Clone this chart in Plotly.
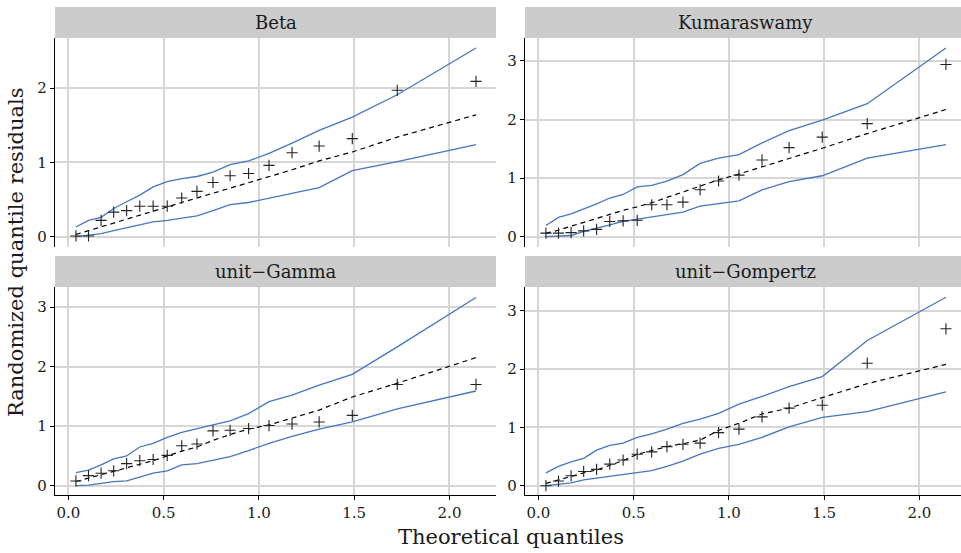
import plotly.graph_objects as go

# Half-normal theoretical quantiles (19 residuals per model)
theoretical = [0.04, 0.106, 0.172, 0.238, 0.306, 0.375, 0.445, 0.519, 0.595, 0.675,
               0.759, 0.849, 0.946, 1.053, 1.174, 1.316, 1.490, 1.726, 2.139]

models = ["Beta", "Kumaraswamy", "unit\u2212Gamma", "unit\u2212Gompertz"]

# Observed absolute randomized quantile residuals
beta_resid = [0.01, 0.01, 0.22, 0.33, 0.35, 0.41, 0.41, 0.41, 0.52, 0.61,
              0.73, 0.82, 0.85, 0.96, 1.13, 1.22, 1.32, 1.97, 2.09]
kuma_resid = [0.06, 0.06, 0.07, 0.10, 0.125, 0.26, 0.27, 0.28, 0.545, 0.545,
              0.59, 0.80, 0.95, 1.05, 1.31, 1.52, 1.70, 1.93, 2.94]
ugam_resid = [0.08, 0.17, 0.21, 0.25, 0.37, 0.42, 0.44, 0.51, 0.67, 0.70,
              0.92, 0.93, 0.96, 1.01, 1.035, 1.07, 1.18, 1.70, 1.70]
ugom_resid = [0.0, 0.08, 0.17, 0.245, 0.28, 0.37, 0.44, 0.54, 0.58, 0.67,
              0.71, 0.73, 0.91, 0.97, 1.18, 1.33, 1.38, 2.10, 2.69]

# Simulated envelope: median (dashed), upper and lower bounds
beta_mid = [0.03, 0.08, 0.13, 0.18, 0.23, 0.29, 0.34, 0.40, 0.46, 0.52,
            0.58, 0.65, 0.72, 0.81, 0.90, 1.02, 1.14, 1.34, 1.64]
beta_upper = [0.13, 0.22, 0.26, 0.38, 0.47, 0.56, 0.67, 0.74, 0.78, 0.81,
              0.87, 0.97, 1.02, 1.12, 1.26, 1.43, 1.61, 1.91, 2.54]
beta_lower = [0.0, 0.02, 0.04, 0.08, 0.12, 0.16, 0.20, 0.22, 0.25, 0.28,
              0.35, 0.43, 0.46, 0.52, 0.58, 0.66, 0.89, 1.01, 1.24]

kuma_mid = [0.06, 0.11, 0.18, 0.25, 0.31, 0.38, 0.45, 0.51, 0.58, 0.67,
            0.76, 0.86, 0.97, 1.07, 1.19, 1.33, 1.51, 1.76, 2.17]
kuma_upper = [0.19, 0.33, 0.39, 0.47, 0.56, 0.66, 0.72, 0.85, 0.875, 0.95,
              1.06, 1.25, 1.34, 1.40, 1.60, 1.81, 1.99, 2.27, 3.22]
kuma_lower = [0.0, 0.01, 0.02, 0.09, 0.14, 0.20, 0.26, 0.30, 0.34, 0.38,
              0.42, 0.52, 0.56, 0.61, 0.80, 0.94, 1.04, 1.34, 1.57]

ugam_mid = [0.07, 0.13, 0.18, 0.24, 0.30, 0.36, 0.42, 0.50, 0.58, 0.65,
            0.76, 0.86, 0.95, 1.02, 1.13, 1.27, 1.49, 1.72, 2.15]
ugam_upper = [0.22, 0.26, 0.35, 0.45, 0.50, 0.65, 0.71, 0.81, 0.895, 0.95,
              1.02, 1.09, 1.21, 1.41, 1.52, 1.69, 1.87, 2.33, 3.16]
ugam_lower = [0.0, 0.01, 0.04, 0.07, 0.08, 0.15, 0.21, 0.25, 0.35, 0.37,
              0.43, 0.49, 0.59, 0.71, 0.83, 0.95, 1.07, 1.29, 1.59]

ugom_mid = [0.04, 0.10, 0.17, 0.22, 0.27, 0.35, 0.43, 0.54, 0.60, 0.67,
            0.72, 0.78, 0.95, 1.07, 1.23, 1.33, 1.51, 1.75, 2.08]
ugom_upper = [0.22, 0.33, 0.41, 0.47, 0.61, 0.69, 0.73, 0.83, 0.89, 0.97,
              1.07, 1.14, 1.24, 1.40, 1.53, 1.70, 1.87, 2.49, 3.23]
ugom_lower = [0.0, 0.03, 0.05, 0.10, 0.13, 0.16, 0.19, 0.22, 0.26, 0.33,
              0.42, 0.54, 0.64, 0.71, 0.83, 1.01, 1.17, 1.27, 1.61]

x_ticks = [0, 0.5, 1.0, 1.5, 2.0]
x_tick_labels = ["0.0", "0.5", "1.0", "1.5", "2.0"]

panels = [
    (beta_resid, beta_mid, beta_upper, beta_lower),
    (kuma_resid, kuma_mid, kuma_upper, kuma_lower),
    (ugam_resid, ugam_mid, ugam_upper, ugam_lower),
    (ugom_resid, ugom_mid, ugom_upper, ugom_lower),
]

W, H = 961, 553
FONT = "DejaVu Serif"
BLUE = "#4675C4"
GRID = "#D6D6D6"
STRIP = "#CCCCCC"
TEXT = "#1A1A1A"

# Panel geometry in pixels: (left, right, plot top, plot bottom, strip top)
geom = [
    (55, 496, 38, 247, 7),
    (525, 961, 38, 247, 7),
    (55, 496, 287, 495, 256),
    (525, 961, 287, 495, 256),
]
PANEL_W = 441
x_ranges = [[-0.0698, 2.244], [-0.0698, 2.218], [-0.0698, 2.244], [-0.0698, 2.218]]
y_ranges = [[-0.139, 2.674], [-0.176, 3.391], [-0.156, 3.336], [-0.159, 3.406]]
y_ticks = [[0, 1, 2], [0, 1, 2, 3], [0, 1, 2, 3], [0, 1, 2, 3]]

fig = go.Figure()
layout = {}
shapes = []
annotations = []

for i, (resid, mid, upper, lower) in enumerate(panels):
    n = i + 1
    xa = "x" if n == 1 else f"x{n}"
    ya = "y" if n == 1 else f"y{n}"
    for env in (upper, lower):
        fig.add_trace(go.Scatter(x=theoretical, y=env, mode="lines",
                                 line=dict(color=BLUE, width=1.3),
                                 xaxis=xa, yaxis=ya, showlegend=False))
    fig.add_trace(go.Scatter(x=theoretical, y=mid, mode="lines",
                             line=dict(color="black", width=1.2, dash="5px,4px"),
                             xaxis=xa, yaxis=ya, showlegend=False))
    fig.add_trace(go.Scatter(x=theoretical, y=resid, mode="markers",
                             marker=dict(symbol="cross-thin", size=8,
                                         line=dict(color="#222222", width=1.1)),
                             xaxis=xa, yaxis=ya, showlegend=False))

    left, right, top, bottom, stop = geom[i]
    bottom_row = n in (3, 4)
    xkey = "xaxis" if n == 1 else f"xaxis{n}"
    ykey = "yaxis" if n == 1 else f"yaxis{n}"
    layout[xkey] = dict(
        domain=[left / W, right / W], range=x_ranges[i], anchor=ya,
        tickvals=x_ticks, ticktext=x_tick_labels,
        showticklabels=bottom_row, ticks="outside" if bottom_row else "",
        ticklen=4, tickwidth=1.1, tickcolor="black",
        showline=bottom_row, linecolor="black", linewidth=1.3,
        showgrid=True, gridcolor=GRID, gridwidth=1.5, zeroline=False,
        tickfont=dict(family=FONT, size=15, color=TEXT),
    )
    layout[ykey] = dict(
        domain=[1 - bottom / H, 1 - top / H], range=y_ranges[i], anchor=xa,
        tickvals=y_ticks[i], ticks="outside", ticklen=4, tickwidth=1.1,
        tickcolor="black", showline=True, linecolor="black", linewidth=1.3,
        showgrid=True, gridcolor=GRID, gridwidth=1.5, zeroline=False,
        tickfont=dict(family=FONT, size=15, color=TEXT),
    )
    shapes.append(dict(type="rect", xref="paper", yref="paper",
                       x0=left / W, x1=right / W, y0=1 - top / H, y1=1 - stop / H,
                       fillcolor=STRIP, line=dict(width=0), layer="below"))
    annotations.append(dict(text=models[i], xref="paper", yref="paper",
                            x=(left + PANEL_W / 2) / W,
                            y=1 - (top + stop) / 2 / H, showarrow=False,
                            xanchor="center", yanchor="middle",
                            font=dict(family=FONT, size=18, color=TEXT)))

annotations.append(dict(text="Theoretical quantiles", xref="paper", yref="paper",
                        x=511 / W, y=1 - 537 / H, showarrow=False,
                        xanchor="center", yanchor="middle",
                        font=dict(family=FONT, size=21, color=TEXT)))
annotations.append(dict(text="Randomized quantile residuals", xref="paper", yref="paper",
                        x=16 / W, y=1 - 252 / H, showarrow=False, textangle=-90,
                        xanchor="center", yanchor="middle",
                        font=dict(family=FONT, size=21, color=TEXT)))

fig.update_layout(width=W, height=H, margin=dict(l=0, r=0, t=0, b=0),
                  paper_bgcolor="white", plot_bgcolor="white",
                  shapes=shapes, annotations=annotations, **layout)

fig.write_html("out.html")
